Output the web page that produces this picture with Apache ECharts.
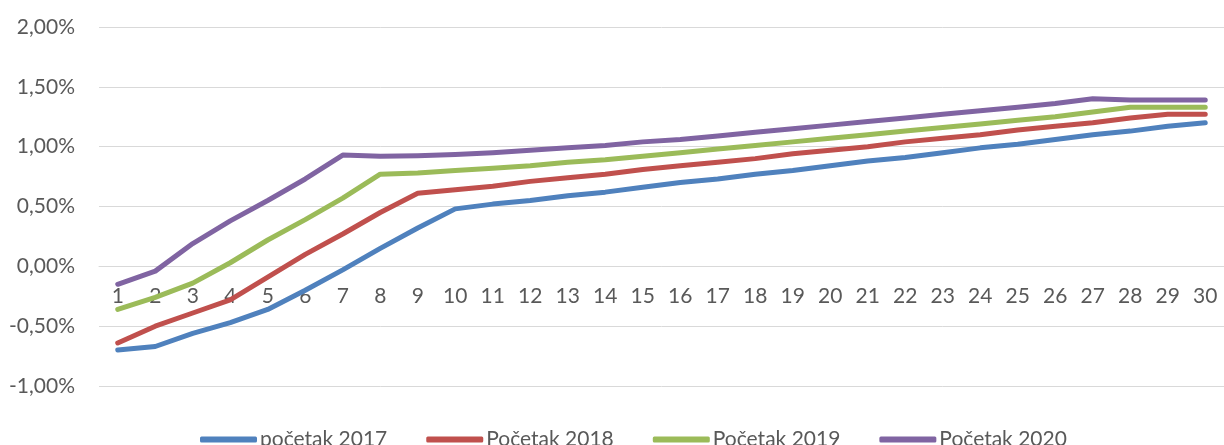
<!DOCTYPE html>
<html>
<head>
<meta charset="UTF-8">
<title>Krivulje prinosa</title>
<script src="https://cdn.jsdelivr.net/npm/echarts@6/dist/echarts.min.js"></script>
<style>
    html, body { margin: 0; padding: 0; background: #fff; }
    #chart { width: 1224px; height: 445px; }
</style>
</head>
<body>
<div id="chart"></div>
<script>
// kategorije (godine dospijeća) i vrijednosti u postocima
const categories = ['1', '2', '3', '4', '5', '6', '7', '8', '9', '10',
    '11', '12', '13', '14', '15', '16', '17', '18', '19', '20',
    '21', '22', '23', '24', '25', '26', '27', '28', '29', '30'];

const seriesNames = ['početak 2017', 'Početak 2018', 'Početak 2019', 'Početak 2020'];

const values2017 = [-0.70, -0.67, -0.56, -0.47, -0.36, -0.20, -0.03, 0.15, 0.32, 0.48,
    0.52, 0.55, 0.59, 0.62, 0.66, 0.70, 0.73, 0.77, 0.80, 0.84,
    0.88, 0.91, 0.95, 0.99, 1.02, 1.06, 1.10, 1.13, 1.17, 1.20];
const values2018 = [-0.64, -0.50, -0.39, -0.28, -0.09, 0.10, 0.27, 0.45, 0.61, 0.64,
    0.67, 0.71, 0.74, 0.77, 0.81, 0.84, 0.87, 0.90, 0.94, 0.97,
    1.00, 1.04, 1.07, 1.10, 1.14, 1.17, 1.20, 1.24, 1.27, 1.27];
const values2019 = [-0.36, -0.26, -0.14, 0.03, 0.22, 0.39, 0.57, 0.77, 0.78, 0.80,
    0.82, 0.84, 0.87, 0.89, 0.92, 0.95, 0.98, 1.01, 1.04, 1.07,
    1.10, 1.13, 1.16, 1.19, 1.22, 1.25, 1.29, 1.33, 1.33, 1.33];
const values2020 = [-0.15, -0.04, 0.19, 0.38, 0.55, 0.73, 0.93, 0.92, 0.925, 0.935,
    0.95, 0.97, 0.99, 1.01, 1.04, 1.06, 1.09, 1.12, 1.15, 1.18,
    1.21, 1.24, 1.27, 1.30, 1.33, 1.36, 1.40, 1.39, 1.39, 1.39];

const colors = ['#4F81BD', '#C0504D', '#9BBB59', '#8064A2'];
const allValues = [values2017, values2018, values2019, values2020];

const fontFam = 'Lato, "Open Sans", sans-serif';
const textColor = '#595959';

const chart = echarts.init(document.getElementById('chart'));
const option = {
    animation: false,
    color: colors,
    grid: { left: 99, right: -10, top: 27, bottom: 59 },
    legend: {
        top: 424,
        left: 195,
        itemWidth: 57,
        itemHeight: 6,
        itemGap: 39,
        icon: 'roundRect',
        textStyle: { fontFamily: fontFam, fontSize: 21, color: textColor, padding: [0, 0, 0, -2] },
        data: seriesNames
    },
    xAxis: {
        type: 'category',
        data: categories,
        boundaryGap: true,
        position: 'bottom',
        offset: -120, // os prelazi kroz nulu
        axisLine: { onZero: false, lineStyle: { color: '#D9D9D9', width: 1 } },
        axisTick: { show: false },
        axisLabel: { fontFamily: fontFam, fontSize: 21, color: textColor, margin: 20, interval: 0 }
    },
    yAxis: {
        type: 'value',
        min: -1,
        max: 2,
        interval: 0.5,
        axisLine: { show: false },
        axisTick: { show: false },
        splitLine: { lineStyle: { color: '#D9D9D9', width: 1 } },
        axisLabel: {
            fontFamily: fontFam, fontSize: 21, color: textColor, margin: 24,
            formatter: v => v.toFixed(2).replace('.', ',') + '%'
        }
    },
    series: seriesNames.map((name, i) => ({
        name: name,
        type: 'line',
        data: allValues[i],
        showSymbol: false,
        symbol: 'none',
        lineStyle: { width: 5, color: colors[i], cap: 'round', join: 'round' }
    }))
};
chart.setOption(option);
</script>
</body>
</html>
